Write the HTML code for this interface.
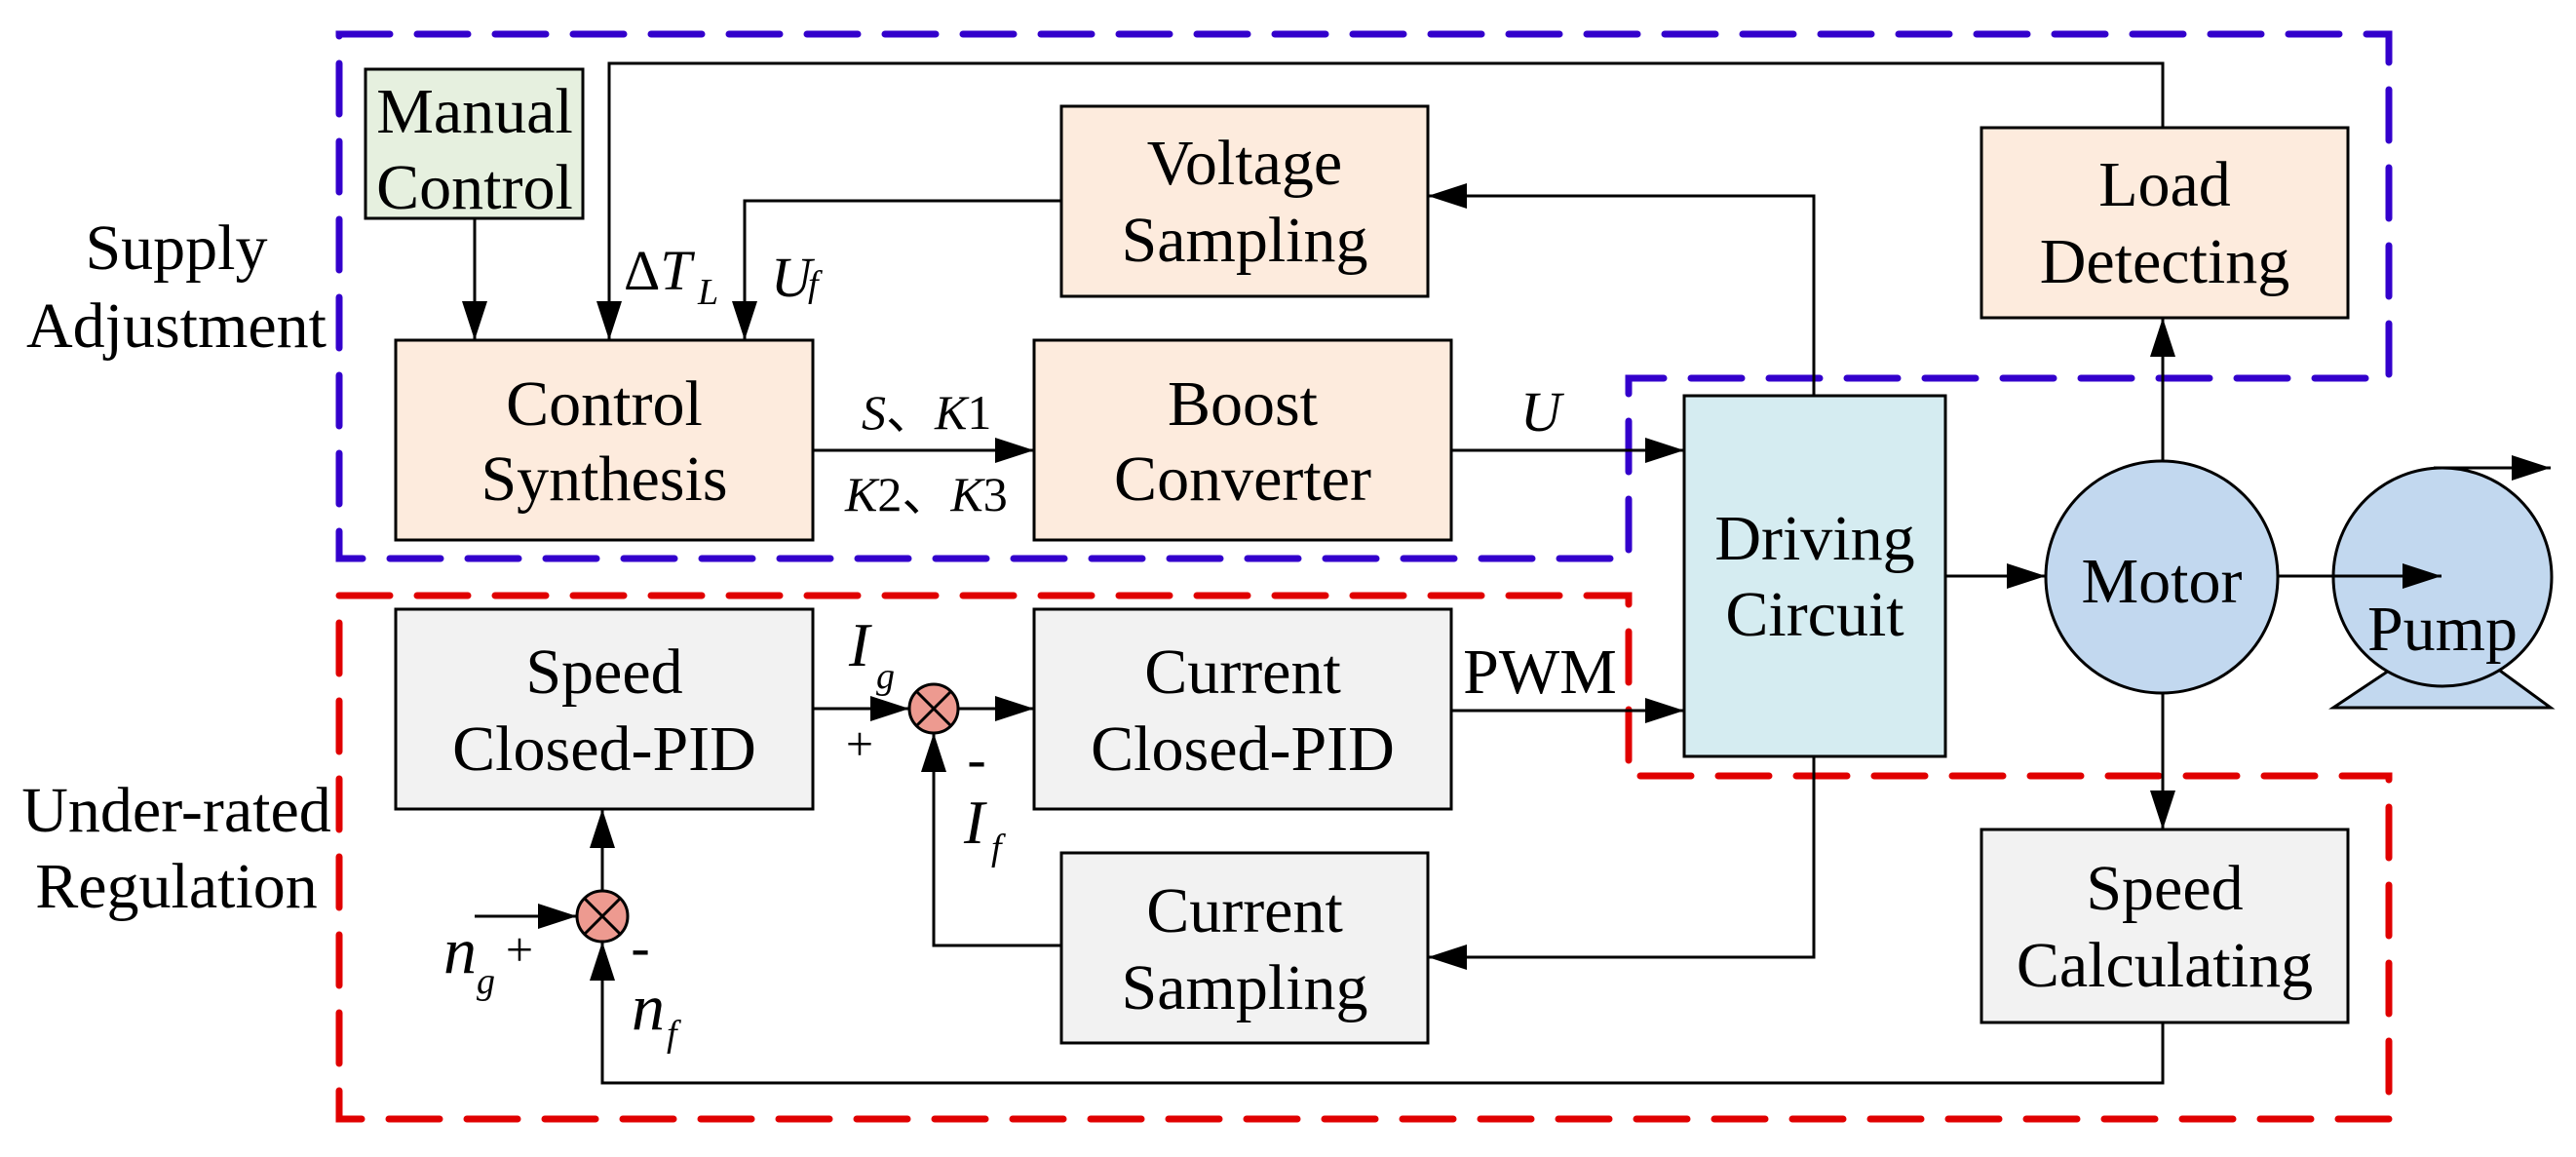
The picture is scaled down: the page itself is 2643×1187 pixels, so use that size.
<!DOCTYPE html>
<html><head><meta charset="utf-8"><style>
html,body{margin:0;padding:0;background:#fff;}
svg{display:block;}
svg text{font-family:"Liberation Serif","DejaVu Serif",serif;fill:#000;}
</style></head><body>
<svg width="2643" height="1187" viewBox="0 0 2643 1187" xmlns="http://www.w3.org/2000/svg" font-family="'Liberation Serif', 'DejaVu Serif', serif">
<defs>
<marker id="a" markerUnits="userSpaceOnUse" markerWidth="42" markerHeight="28" refX="40" refY="13" orient="auto">
<path d="M0,0 L40,13 L0,26 z" fill="#000"/>
</marker>
</defs>

<path d="M348,35 L2451,35 L2451,388 L1671,388 L1671,573 L348,573 Z" fill="none" stroke="#3300CC" stroke-width="7" stroke-dasharray="52 28" stroke-linecap="round"/>
<path d="M348,611 L1671,611 L1671,796 L2451,796 L2451,1148 L348,1148 Z" fill="none" stroke="#E00000" stroke-width="7" stroke-dasharray="52 28" stroke-linecap="round"/>

<g stroke="#000" stroke-width="3">
<rect x="375" y="71" width="223" height="153" fill="#E6F0DF"/>
<rect x="1089" y="109" width="376" height="195" fill="#FDEBDD"/>
<rect x="406" y="349" width="428" height="205" fill="#FDEBDD"/>
<rect x="1061" y="349" width="428" height="205" fill="#FDEBDD"/>
<rect x="2033" y="131" width="376" height="195" fill="#FDEBDD"/>
<rect x="1728" y="406" width="268" height="370" fill="#D5ECF1"/>
<rect x="406" y="625" width="428" height="205" fill="#F2F2F2"/>
<rect x="1061" y="625" width="428" height="205" fill="#F2F2F2"/>
<rect x="1089" y="875" width="376" height="195" fill="#F2F2F2"/>
<rect x="2033" y="851" width="376" height="198" fill="#F2F2F2"/>
<polygon points="2451,688 2565,688 2617,726 2394,726" fill="#C2D8EF"/>
<circle cx="2506" cy="592" r="112" fill="#C2D8EF"/>
<circle cx="2218" cy="592" r="119" fill="#C2D8EF"/>
<circle cx="958" cy="727" r="25" fill="#ED9A90"/>
<circle cx="618" cy="940" r="26" fill="#ED9A90"/>
</g>
<g stroke="#000" stroke-width="3">
<line x1="940" y1="709" x2="976" y2="745"/><line x1="976" y1="709" x2="940" y2="745"/>
<line x1="600" y1="922" x2="636" y2="958"/><line x1="636" y1="922" x2="600" y2="958"/>
</g>

<g stroke="#000" stroke-width="3" fill="none">
<line x1="487" y1="224" x2="487" y2="349" marker-end="url(#a)"/>
<polyline points="2219,131 2219,65 625,65 625,349" marker-end="url(#a)"/>
<polyline points="1089,206 764,206 764,349" marker-end="url(#a)"/>
<line x1="834" y1="462" x2="1061" y2="462" marker-end="url(#a)"/>
<line x1="1489" y1="462" x2="1728" y2="462" marker-end="url(#a)"/>
<polyline points="1861,406 1861,201 1465,201" marker-end="url(#a)"/>
<line x1="1996" y1="591" x2="2099" y2="591" marker-end="url(#a)"/>
<line x1="2337" y1="591" x2="2505" y2="591" marker-end="url(#a)"/>
<polyline points="2497,480 2617,480" marker-end="url(#a)"/>
<line x1="2219" y1="473" x2="2219" y2="326" marker-end="url(#a)"/>
<line x1="2219" y1="711" x2="2219" y2="851" marker-end="url(#a)"/>
<line x1="834" y1="727" x2="933" y2="727" marker-end="url(#a)"/>
<line x1="983" y1="727" x2="1061" y2="727" marker-end="url(#a)"/>
<line x1="1489" y1="729" x2="1728" y2="729" marker-end="url(#a)"/>
<polyline points="1089,970 958,970 958,752" marker-end="url(#a)"/>
<polyline points="1861,776 1861,982 1465,982" marker-end="url(#a)"/>
<line x1="618" y1="914" x2="618" y2="830" marker-end="url(#a)"/>
<line x1="487" y1="940" x2="592" y2="940" marker-end="url(#a)"/>
<polyline points="2219,1049 2219,1111 618,1111 618,966" marker-end="url(#a)"/>
</g>

<g font-size="66" text-anchor="middle">
<text x="181" y="276">Supply</text><text x="181" y="356">Adjustment</text>
<text x="181" y="853">Under-rated</text><text x="181" y="931">Regulation</text>
<text x="487" y="136">Manual</text><text x="487" y="214">Control</text>
<text x="1277" y="189">Voltage</text><text x="1277" y="268">Sampling</text>
<text x="620" y="436">Control</text><text x="620" y="513">Synthesis</text>
<text x="1275" y="436">Boost</text><text x="1275" y="513">Converter</text>
<text x="2221" y="211">Load</text><text x="2221" y="290">Detecting</text>
<text x="1862" y="574">Driving</text><text x="1862" y="652">Circuit</text>
<text x="2218" y="618">Motor</text>
<text x="2506" y="667">Pump</text>
<text x="620" y="711">Speed</text><text x="620" y="790">Closed-PID</text>
<text x="1275" y="711">Current</text><text x="1275" y="790">Closed-PID</text>
<text x="1277" y="956">Current</text><text x="1277" y="1035">Sampling</text>
<text x="2221" y="933">Speed</text><text x="2221" y="1012">Calculating</text>
<text x="1580" y="711">PWM</text>
</g>

<g font-size="58">
<text x="884" y="440" font-size="50"><tspan font-style="italic">S</tspan>、<tspan font-style="italic">K</tspan>1</text>
<text x="867" y="524" font-size="50"><tspan font-style="italic">K</tspan>2、<tspan font-style="italic">K</tspan>3</text>
<text x="1560" y="442" font-style="italic">U</text>
<text x="640" y="297">Δ<tspan font-style="italic">T</tspan></text>
<text x="716" y="312" font-size="38" font-style="italic">L</text>
<text x="791" y="304" font-style="italic">U</text>
<text x="829" y="304" font-size="38" font-style="italic">f</text>
<text x="871" y="683" font-style="italic" font-size="64">I</text>
<text x="899" y="706" font-size="38" font-style="italic">g</text>
<text x="882" y="780" text-anchor="middle" font-size="50">+</text>
<text x="1002" y="798" text-anchor="middle" font-size="58">-</text>
<text x="989" y="865" font-style="italic" font-size="64">I</text>
<text x="1017" y="882" font-size="38" font-style="italic">f</text>
<text x="455" y="998" font-style="italic" font-size="68">n</text>
<text x="489" y="1019" font-size="38" font-style="italic">g</text>
<text x="533" y="991" text-anchor="middle" font-size="50">+</text>
<text x="657" y="991" text-anchor="middle" font-size="58">-</text>
<text x="648" y="1056" font-style="italic" font-size="68">n</text>
<text x="684" y="1073" font-size="38" font-style="italic">f</text>
</g>
</svg>
</body></html>
